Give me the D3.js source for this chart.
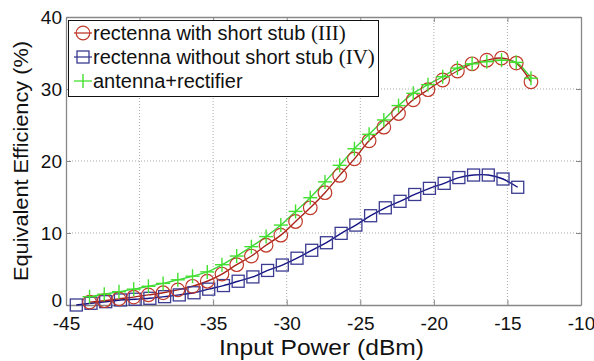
<!DOCTYPE html>
<html><head><meta charset="utf-8">
<script src="https://cdn.jsdelivr.net/npm/d3@7/dist/d3.min.js"></script>
<style>
body{margin:0;background:#fff;}
text{font-family:"Liberation Sans",Arial,sans-serif;}
</style></head>
<body><svg id="c" width="594" height="361"></svg>
<script>
const xTicks = [-45,-40,-35,-30,-25,-20,-15,-10];
const yTicks = [0,10,20,30,40];

const powerIII = [-43.4,-42.4,-41.4,-40.4,-39.4,-38.4,-37.4,-36.4,-35.4,-34.4,-33.4,-32.4,-31.4,-30.4,-29.4,-28.4,-27.4,-26.4,-25.4,-24.4,-23.4,-22.4,-21.4,-20.4,-19.4,-18.4,-17.4,-16.4,-15.4,-14.4,-13.4];
const effIII = [0.4,0.6,0.85,1.1,1.4,1.7,2.1,2.6,3.3,4.3,5.6,6.8,8.3,9.7,11.6,13.5,15.6,18.0,20.3,22.8,24.7,26.6,28.5,29.9,31.25,32.5,33.5,34.0,34.3,33.6,31.0];

const powerAR = [-43.4,-42.4,-41.4,-40.4,-39.4,-38.4,-37.4,-36.4,-35.4,-34.4,-33.4,-32.4,-31.4,-30.4,-29.4,-28.4,-27.4,-26.4,-25.4,-24.4,-23.4,-22.4,-21.4,-20.4,-19.4,-18.4,-17.4,-16.4,-15.4,-14.4,-13.4];
const effAR = [1.15,1.5,1.85,2.2,2.6,3.0,3.5,4.0,4.6,5.6,6.8,8.1,9.5,11.1,13.0,14.9,17.1,19.4,21.7,23.7,25.7,27.7,29.4,30.6,31.7,32.9,33.5,33.8,34.0,33.7,31.5];

const powerIV = [-44.3,-43.3,-42.3,-41.3,-40.3,-39.3,-38.3,-37.3,-36.3,-35.3,-34.3,-33.3,-32.3,-31.3,-30.3,-29.3,-28.3,-27.3,-26.3,-25.3,-24.3,-23.3,-22.3,-21.3,-20.3,-19.3,-18.3,-17.3,-16.3,-15.3,-14.3];
const effIV = [0.0,0.24,0.46,0.7,0.8,0.93,1.16,1.4,1.7,2.2,2.7,3.3,3.9,4.8,5.55,6.5,7.6,8.65,9.95,11.1,12.4,13.5,14.4,15.35,16.2,16.9,17.7,18.05,18.05,17.5,16.35];

const legendLabels = ["rectenna with short stub ","rectenna without short stub ","antenna+rectifier"];
const legendNumerals = ["(III)","(IV)",""];

const svg = d3.select("#c");
const L=66, R=581, T=17, B=305;
const x = d3.scaleLinear().domain([-45,-10]).range([L,R]);
const y = d3.scaleLinear().domain([0,40]).range([B,T]);

// grid
const g = svg.append("g");
g.selectAll(".gx").data(xTicks.slice(1,-1)).join("line")
  .attr("x1",d=>x(d)).attr("x2",d=>x(d)).attr("y1",T).attr("y2",B)
  .attr("stroke","#aaa").attr("stroke-dasharray","1,2");
g.selectAll(".gy").data(yTicks.slice(1,-1)).join("line")
  .attr("y1",d=>y(d)).attr("y2",d=>y(d)).attr("x1",L).attr("x2",R)
  .attr("stroke","#aaa").attr("stroke-dasharray","1,2");

const fmt = d=>String(d);
// axes
const axB = svg.append("g").attr("transform",`translate(0,${B})`)
  .call(d3.axisBottom(x).tickValues(xTicks).tickSizeInner(-5).tickSizeOuter(0).tickPadding(12).tickFormat(fmt));
const axT = svg.append("g").attr("transform",`translate(0,${T})`)
  .call(d3.axisTop(x).tickValues(xTicks).tickSizeInner(-5).tickSizeOuter(0).tickFormat(""));
const axL = svg.append("g").attr("transform",`translate(${L},0)`)
  .call(d3.axisLeft(y).tickValues(yTicks).tickSizeInner(-5).tickSizeOuter(0).tickPadding(4).tickFormat(fmt));
const axR = svg.append("g").attr("transform",`translate(${R},0)`)
  .call(d3.axisRight(y).tickValues(yTicks).tickSizeInner(-5).tickSizeOuter(0).tickFormat(""));
[axB,axT,axL,axR].forEach(a=>{
  a.select(".domain").attr("stroke","#888").attr("stroke-width",1.3);
  a.selectAll(".tick line").attr("stroke","#888");
  a.selectAll("text").attr("fill","#111").style("font-size","19px").style("font-family","Liberation Sans, Arial, sans-serif");
});
axB.selectAll(".tick text").attr("dy","0.71em");
axL.selectAll(".tick text").attr("dy","0.35em");
axL.selectAll(".tick").filter(d=>d===0).select("text").attr("dy","0.1em");

// lines
const line = d3.line().curve(d3.curveCatmullRom.alpha(0.5));
function series(px, py){
  return px.map((v,i)=>[x(v), y(py[i])]);
}
const dIII = series(powerIII, effIII), dAR = series(powerAR, effAR), dIV = series(powerIV, effIV);
svg.append("path").attr("d",line(dIV)).attr("fill","none").attr("stroke","#141485").attr("stroke-width",1.4);
svg.append("path").attr("d",line(dIII)).attr("fill","none").attr("stroke","#a8241a").attr("stroke-width",1.4);
svg.append("path").attr("d",line(dAR)).attr("fill","none").attr("stroke","#3fd83a").attr("stroke-width",1.4);

// markers
svg.append("g").selectAll("rect").data(dIV).join("rect")
  .attr("x",d=>d[0]-6).attr("y",d=>d[1]-6).attr("width",12).attr("height",12)
  .attr("fill","none").attr("stroke","#3b3b92").attr("stroke-width",1.3);
svg.append("g").selectAll("circle").data(dIII).join("circle")
  .attr("cx",d=>d[0]).attr("cy",d=>d[1]).attr("r",6.8)
  .attr("fill","none").attr("stroke","#c0392a").attr("stroke-width",1.2);
const plus = svg.append("g").attr("stroke","#44e030").attr("stroke-width",1.4);
dAR.forEach(d=>{
  plus.append("line").attr("x1",d[0]-7).attr("x2",d[0]+7).attr("y1",d[1]).attr("y2",d[1]);
  plus.append("line").attr("x1",d[0]).attr("x2",d[0]).attr("y1",d[1]-7).attr("y2",d[1]+7);
});

// legend
const lg = svg.append("g");
lg.append("rect").attr("x",68.5).attr("y",20.5).attr("width",310).attr("height",76)
  .attr("fill","#fff").attr("stroke","#111").attr("stroke-width",1);
const rows=[33,57,81];
const cols=["#c0392a","#3b3b92","#44e030"];
rows.forEach((ry,i)=>{
  lg.append("line").attr("x1",74).attr("x2",92).attr("y1",ry).attr("y2",ry).attr("stroke",cols[i]).attr("stroke-width",1.3);
  if(i===0) lg.append("circle").attr("cx",83).attr("cy",ry).attr("r",6.8).attr("fill","none").attr("stroke",cols[i]).attr("stroke-width",1.2);
  if(i===1) lg.append("rect").attr("x",77).attr("y",ry-6).attr("width",12).attr("height",12).attr("fill","none").attr("stroke",cols[i]).attr("stroke-width",1.3);
  if(i===2) lg.append("line").attr("x1",83).attr("x2",83).attr("y1",ry-7).attr("y2",ry+7).attr("stroke",cols[i]).attr("stroke-width",1.4);
  const t = lg.append("text").attr("x",93).attr("y",ry).attr("dy","0.36em").style("font-size","20px").attr("fill","#111");
  t.append("tspan").text(legendLabels[i]);
  if(legendNumerals[i]) t.append("tspan").style("font-family","Liberation Serif, Times New Roman, serif").style("font-size","21px").text(legendNumerals[i]);
});

// axis titles
svg.append("text").attr("x",(L+R)/2-2).attr("y",355).attr("text-anchor","middle")
  .attr("textLength",205).attr("lengthAdjust","spacingAndGlyphs")
  .style("font-size","22px").attr("fill","#111").text("Input Power (dBm)");
svg.append("text").attr("transform",`translate(28,${(T+B)/2}) rotate(-90)`).attr("text-anchor","middle")
  .attr("textLength",240).attr("lengthAdjust","spacingAndGlyphs")
  .style("font-size","21px").attr("fill","#111").text("Equivalent Efficiency (%)");
</script></body></html>
